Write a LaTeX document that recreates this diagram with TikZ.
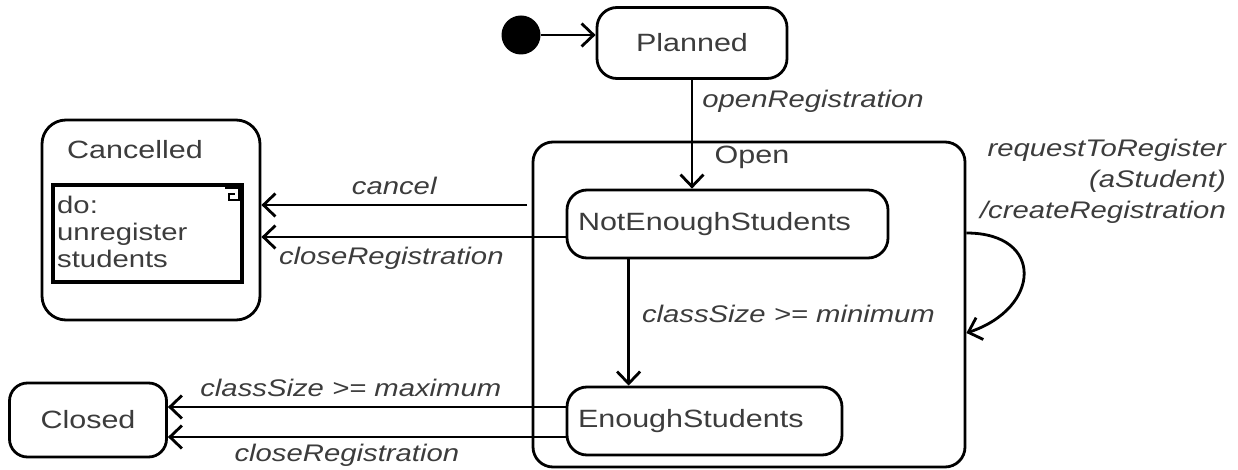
\documentclass[tikz,border=0pt]{standalone}
\usepackage{fontspec}
\setmainfont{Liberation Sans}[FakeStretch=1.22]
\usetikzlibrary{arrows.meta}
\definecolor{txt}{HTML}{3C3C3C}
\tikzset{
  ln/.style={line width=2.8pt, draw=black},
  statebox/.style={ln, rounded corners=20pt, inner sep=0pt, text=txt,
                   font=\fontsize{25}{30}\selectfont},
  arr/.style={ln, -{Straight Barb[length=12pt,width=23pt]}},
  lab/.style={text=txt, inner sep=1pt, font=\fontsize{24}{29}\selectfont\itshape},
  plain/.style={text=txt, inner sep=0pt, font=\fontsize{25}{30}\selectfont},
}
\begin{document}
\begin{tikzpicture}[x=1pt, y=-1pt]
\useasboundingbox (0,0) rectangle (1238,470);

% initial pseudo-state and first state
\node[circle, fill=black, minimum size=39pt, inner sep=0pt] (init) at (521,35) {};
\node[statebox, minimum width=190pt, minimum height=71pt] (planned) at (692,43) {Planned};

% composite state Open with its substates
\node[statebox, minimum width=432pt, minimum height=325pt] (open) at (749,304.5) {};
\node[plain] (openlbl) at (752,157) {Open};
\node[statebox, minimum width=321pt, minimum height=68pt, text width=299pt,
      inner xsep=11pt, align=left] (nes) at (727.5,224) {NotEnoughStudents};
\node[statebox, minimum width=275pt, minimum height=68pt, text width=253pt,
      inner xsep=11pt, align=left] (es) at (704.5,421) {EnoughStudents};

% Cancelled with its do-activity
\node[statebox, rounded corners=24pt, minimum width=218pt, minimum height=200pt] (cancelled) at (151,220) {};
\node[plain] (cancelledlbl) at (135,150) {Cancelled};
\node[draw=black, line width=3.2pt, minimum width=189pt, minimum height=97pt, inner sep=0pt] (activity) at (147.5,233.5) {};
\node[plain, anchor=west, align=left, font=\fontsize{24}{27}\selectfont] (activitytxt) at (57,232) {do:\\unregister\\students};
\draw[line width=1.6pt] (225,188) -- (239,188) -- (239,200) -- (229,200) -- (229,194) -- (235,194);

% Closed
\node[statebox, rounded corners=18pt, minimum width=157pt, minimum height=74pt] (closed) at (88,420) {Closed};

% transitions
\draw[arr] (init) -- (init -| planned.west);
\draw[arr] (planned.south) -- (planned.south |- nes.north)
  node[lab, pos=0.2, anchor=west, xshift=8pt] {openRegistration};
\draw[arr] ([xshift=63pt]nes.south west) -- ([xshift=63pt]es.north west)
  node[lab, pos=0.43, anchor=west, xshift=11pt] {classSize >= minimum};

\coordinate (cancelstart) at (527,205);
\draw[arr] (cancelstart) -- (cancelstart -| cancelled.east)
  node[lab, midway, anchor=south, yshift=8pt] {cancel};
\draw[arr] ([yshift=-13pt]nes.west) -- ([yshift=-13pt]nes.west -| cancelled.east)
  node[lab, pos=0.573, anchor=north, yshift=-8pt] {closeRegistration};

\draw[arr] ([yshift=14pt]es.west) -- ([yshift=14pt]es.west -| closed.east)
  node[lab, pos=0.54, anchor=south, yshift=8pt] {classSize >= maximum};
\draw[arr] ([yshift=-16pt]es.west) -- ([yshift=-16pt]es.west -| closed.east)
  node[lab, pos=0.55, anchor=north, yshift=-5pt] {closeRegistration};

% self transition on Open
\draw[arr] ([yshift=71.5pt]open.east) .. controls +(78,0) and +(75,-25) .. ([yshift=-28.5pt]open.east);
\node[lab, anchor=north east, align=right, font=\fontsize{24}{31}\selectfont\itshape] (looplbl) at (1227,138)
  {requestToRegister\\(aStudent)\\/createRegistration};
\end{tikzpicture}
\end{document}
